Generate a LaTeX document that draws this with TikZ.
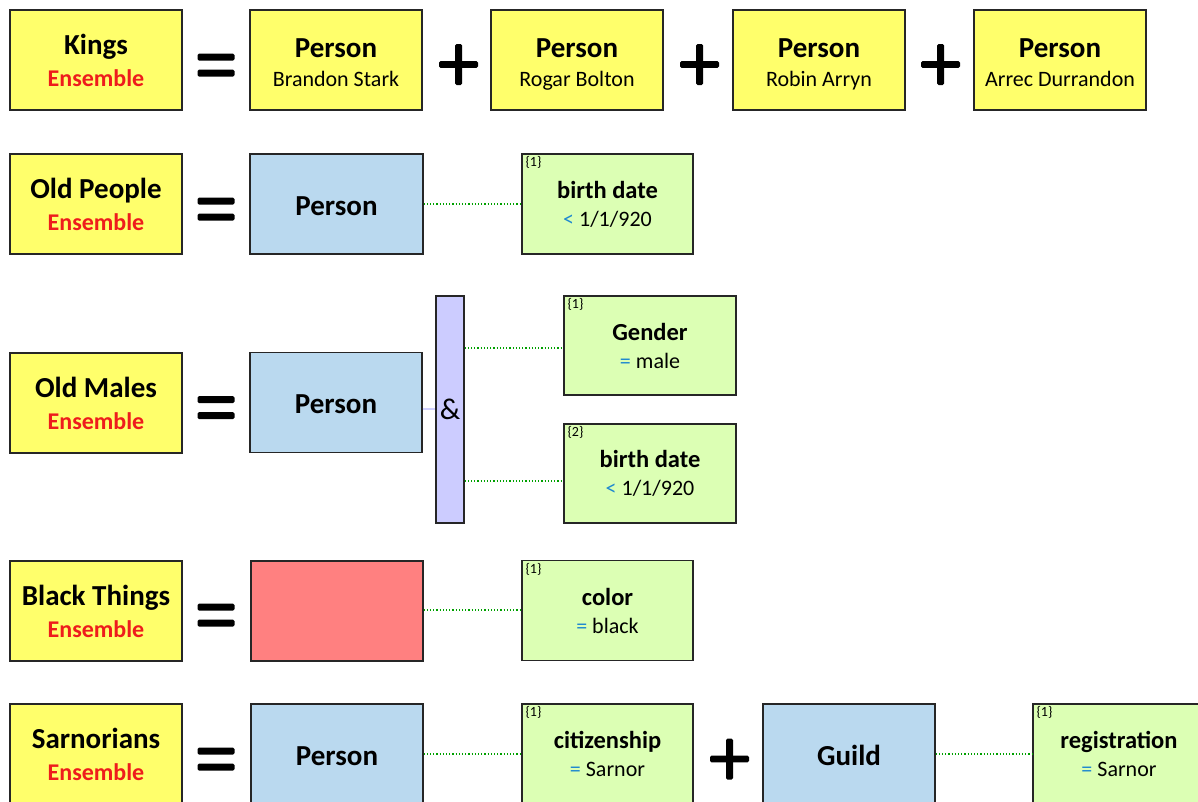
\documentclass[tikz,border=0pt]{standalone}
\usepackage{fontspec}
\setmainfont{Carlito}
\definecolor{kyellow}{HTML}{FFFF6B}
\definecolor{kblue}{HTML}{BAD9EF}
\definecolor{kred}{HTML}{FF8080}
\definecolor{kgreen}{HTML}{DCFFB4}
\definecolor{kpurple}{HTML}{CCCCFF}
\definecolor{linkpurple}{HTML}{D0D0FF}
\definecolor{ensred}{HTML}{EE1C1C}
\definecolor{opblue}{HTML}{1E88D0}
\definecolor{linkgreen}{HTML}{00A000}
\definecolor{edgegray}{HTML}{262626}
\newcommand\ftitle{\fontsize{29}{32}\selectfont\bfseries}
\newcommand\fens{\fontsize{24}{32}\selectfont\bfseries\color{ensred}}
\newcommand\fpers{\fontsize{29}{29}\selectfont\bfseries\rule{0pt}{29pt}}
\newcommand\fcls{\fontsize{29}{29}\selectfont\bfseries\rule{0pt}{23pt}}
\newcommand\fname{\fontsize{22}{29}\selectfont\rule[-6pt]{0pt}{6pt}}
\newcommand\fcond{\fontsize{24.5}{28}\selectfont\bfseries}
\newcommand\fval{\fontsize{22}{28}\selectfont}
\newcommand\op[1]{{\color{opblue}#1}}
\tikzset{
  box/.style={draw=edgegray, line width=1.3pt, minimum width=172pt, minimum height=100pt,
              align=center, inner sep=0pt, text=black},
  ens/.style={box, fill=kyellow, font=\fontsize{24}{32}\selectfont},
  pers/.style={box, fill=kyellow, font=\fontsize{22}{29}\selectfont},
  cls/.style={box, fill=kblue},
  redbox/.style={box, fill=kred},
  cond/.style={box, fill=kgreen, minimum width=171pt, font=\fontsize{22}{28}\selectfont},
  idx/.style={anchor=north west, inner sep=0pt, font=\fontsize{14}{14}\selectfont, text=black},
  andbar/.style={draw=edgegray, line width=1.3pt, fill=kpurple, minimum width=28pt,
                 minimum height=227pt, inner sep=0pt, font=\fontsize{30}{30}\selectfont},
  link/.style={draw=linkgreen, line width=1.2pt, dotted},
  andlink/.style={draw=linkpurple, line width=1.4pt},
  eqsign/.pic={\fill[black, rounded corners=1.5pt] (-18.5,-11.5) rectangle (18.5,-4.5);
               \fill[black, rounded corners=1.5pt] (-18.5,4.5) rectangle (18.5,11.5);},
  plussign/.pic={\fill[black, rounded corners=1.5pt] (-19.5,-3.3) rectangle (19.5,3.3);
                 \fill[black, rounded corners=1.5pt] (-3.5,-20.5) rectangle (3.5,20.5);}
}
\begin{document}
\begin{tikzpicture}[x=1pt, y=-1pt]
\useasboundingbox (0,0) rectangle (1198,801);
\begin{scope}
\clip (0,0) rectangle (1198,801);
% Row 1
\node[ens] (kings) at (96,60) {\ftitle Kings\\\fens Ensemble};
\pic at (216,65) {eqsign};
\node[pers] (p1) at (336,60) {\fpers Person\\\fname Brandon Stark};
\pic at (458.5,64.5) {plussign};
\node[pers] (p2) at (577,60) {\fpers Person\\\fname Rogar Bolton};
\pic at (699.5,64.5) {plussign};
\node[pers] (p3) at (819,60) {\fpers Person\\\fname Robin Arryn};
\pic at (940.5,64.5) {plussign};
\node[pers] (p4) at (1060,60) {\fpers Person\\\fname Arrec Durrandon};
% Row 2
\node[ens] (old) at (96,204) {\ftitle Old People\\\fens Ensemble};
\pic at (216,209) {eqsign};
\node[cls, minimum width=173pt] (oldp) at (336.5,204) {\fcls Person};
\node[cond] (oldc) at (607.5,204) {\fcond birth date\\\fval\op{<} 1/1/920};
\node[idx] (oldci) at ([shift={(4,3)}]oldc.north west) {\{1\}};
\draw[link] (oldp.east |- 0,204) coordinate (a2) -- (oldc.west |- a2);
% Row 3
\node[ens] (males) at (96,403) {\ftitle Old Males\\\fens Ensemble};
\pic at (216,407.5) {eqsign};
\node[cls] (malep) at (336,402.5) {\fcls Person};
\node[andbar] (and) at (450,409.5) {\&};
\node[cond, minimum width=172pt, minimum height=99pt] (gend) at (650,345.5) {\fcond Gender\\\fval\op{=} male};
\node[idx] (gendi) at ([shift={(4,3)}]gend.north west) {\{1\}};
\node[cond, minimum width=172pt, minimum height=99pt] (birth) at (650,473.5) {\fcond birth date\\\fval\op{<} 1/1/920};
\node[idx] (birthi) at ([shift={(4,3)}]birth.north west) {\{2\}};
\draw[andlink] (malep.east |- 0,409) coordinate (a3) -- (and.west |- a3);
\draw[link] (and.east |- 0,348) coordinate (a4) -- (gend.west |- a4);
\draw[link] (and.east |- 0,481) coordinate (a5) -- (birth.west |- a5);
% Row 4
\node[ens] (black) at (96,611) {\ftitle Black Things\\\fens Ensemble};
\pic at (216,615) {eqsign};
\node[redbox] (thing) at (337,611) {};
\node[cond] (col) at (607.5,610.5) {\fcond color\\\fval\op{=} black};
\node[idx] (coli) at ([shift={(4,3)}]col.north west) {\{1\}};
\draw[link] (thing.east |- 0,610) coordinate (a6) -- (col.west |- a6);
% Row 5
\node[ens] (sarn) at (96,754) {\ftitle Sarnorians\\\fens Ensemble};
\pic at (216,759) {eqsign};
\node[cls] (sarnp) at (337,754) {\fcls Person};
\node[cond] (citz) at (607.5,754) {\fcond citizenship\\\fval\op{=} Sarnor};
\node[idx] (citzi) at ([shift={(4,3)}]citz.north west) {\{1\}};
\draw[link] (sarnp.east |- 0,754) coordinate (a7) -- (citz.west |- a7);
\pic at (729.5,759) {plussign};
\node[cls] (guild) at (849,754) {\fcls Guild};
\node[cond, minimum width=172pt] (reg) at (1119,754) {\fcond registration\\\fval\op{=} Sarnor};
\node[idx] (regi) at ([shift={(4,3)}]reg.north west) {\{1\}};
\draw[link] (guild.east |- 0,754) coordinate (a8) -- (reg.west |- a8);
\end{scope}
\end{tikzpicture}
\end{document}
